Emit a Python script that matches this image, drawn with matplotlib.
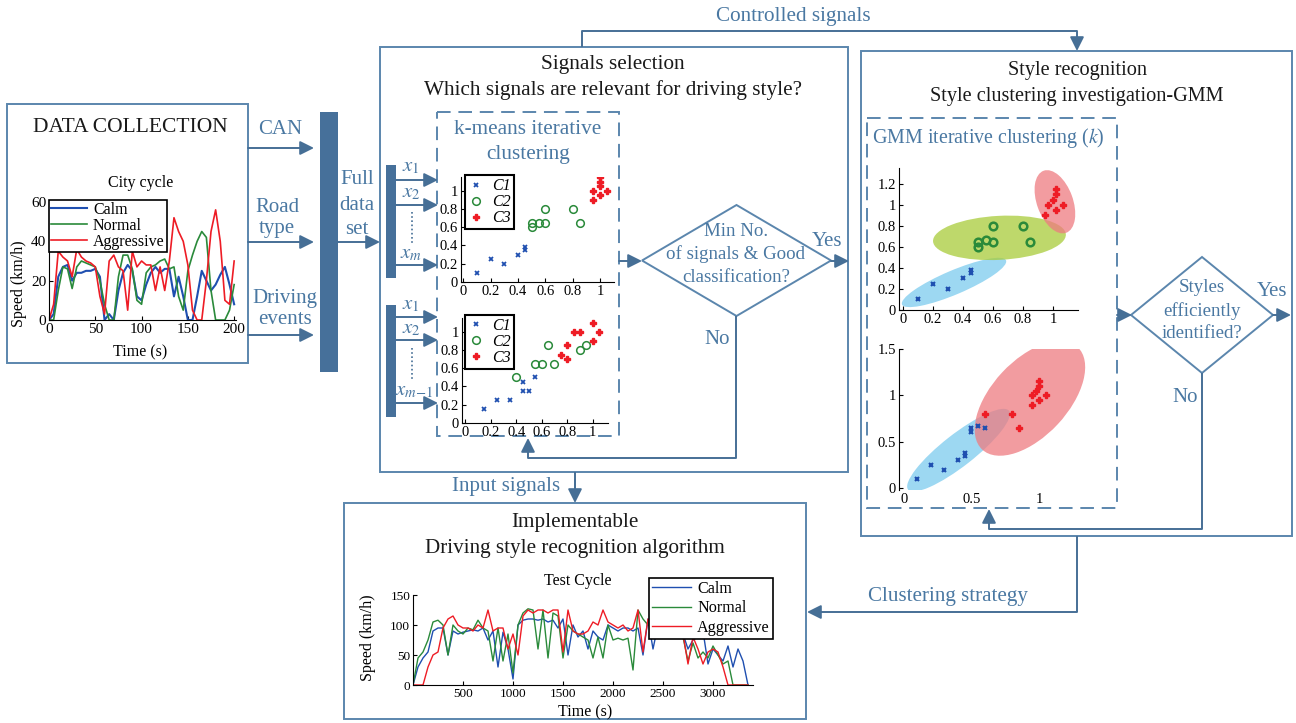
import numpy as np
import matplotlib.pyplot as plt
from matplotlib.patches import Rectangle, Polygon, Ellipse
from matplotlib.transforms import Affine2D

plt.rcParams['font.family'] = ['Liberation Serif', 'DejaVu Serif']
plt.rcParams['mathtext.fontset'] = 'stix'

W, H = 1296, 723
BOX = '#5b86ad'
ARR = '#466f96'
DARK = '#46709a'
TXT = '#4a78a2'
C_BLUE = '#1f4fb0'
C_GREEN = '#2a8a3a'
C_RED = '#ee1c25'

# ---- city cycle (speed km/h, every 5 s)
city_t = np.arange(0, 201, 5)
city_calm = [0, 3, 22, 27, 28, 20, 24, 24, 25, 25, 26, 22, 0, 3, 0, 15, 24, 28, 25, 12,
             10, 18, 24, 27, 24, 26, 26, 12, 22, 12, 0, 0, 12, 25, 20, 15, 18, 23, 27, 18, 8]
city_normal = [0, 0, 15, 27, 26, 16, 27, 30, 29, 28, 27, 20, 8, 0, 0, 22, 33, 33, 26, 10,
               8, 24, 27, 28, 30, 31, 26, 27, 12, 5, 25, 33, 40, 45, 42, 15, 0, 0, 0, 5, 18]
city_aggr = [0, 8, 35, 32, 30, 22, 36, 32, 30, 29, 27, 12, 3, 30, 33, 27, 25, 5, 35, 27,
             30, 28, 28, 15, 27, 15, 30, 52, 45, 40, 28, 5, 0, 0, 20, 45, 56, 40, 10, 8, 30]

# ---- test cycle (speed km/h, every 50 s)
test_t = np.arange(0, 3351, 50)
test_calm = [0, 30, 45, 55, 90, 95, 95, 50, 90, 85,
             88, 90, 92, 90, 95, 75, 90, 30, 88, 60,
             10, 100, 108, 110, 110, 108, 110, 105, 108, 95,
             110, 50, 100, 80, 90, 60, 90, 80, 75, 100,
             95, 90, 95, 95, 90, 95, 50, 110, 60, 100,
             95, 90, 95, 90, 85, 60, 75, 80, 90, 35,
             60, 50, 40, 65, 30, 60, 40, 0]
test_normal = [0, 45, 55, 75, 105, 108, 100, 50, 100, 90,
               85, 95, 92, 108, 95, 90, 40, 95, 40, 85,
               20, 100, 120, 127, 125, 60, 125, 45, 120, 115,
               45, 100, 90, 85, 80, 75, 45, 80, 45, 100,
               75, 78, 75, 78, 25, 125, 110, 100, 95, 95,
               90, 95, 90, 85, 80, 40, 70, 45, 55, 45,
               65, 50, 35, 40, 0, 0, 0, 0]
test_aggr = [0, 0, 0, 30, 50, 55, 95, 110, 115, 100,
             95, 95, 90, 100, 95, 125, 90, 95, 95, 60,
             85, 50, 115, 125, 120, 125, 125, 120, 125, 125,
             55, 125, 90, 85, 85, 90, 105, 100, 125, 105,
             100, 95, 100, 90, 95, 125, 55, 110, 100, 100,
             95, 100, 95, 90, 85, 35, 80, 60, 35, 55,
             60, 55, 30, 0, 0, 0, 0, 0]

# ---- k-means scatter, signal set x1..xm
km1_c1 = ([0.1, 0.2, 0.3, 0.4, 0.45, 0.45], [0.1, 0.25, 0.2, 0.3, 0.35, 0.38])
km1_c2 = ([0.5, 0.5, 0.55, 0.6, 0.6, 0.8, 0.85], [0.6, 0.65, 0.65, 0.65, 0.8, 0.8, 0.65])
km1_c3 = ([0.95, 0.95, 1.0, 1.0, 1.0, 1.0, 1.05], [0.9, 1.0, 0.95, 1.05, 1.1, 1.15, 1.0])
# ---- k-means scatter, signal set x1..x(m-1)
km2_c1 = ([0.15, 0.25, 0.35, 0.45, 0.45, 0.5, 0.55], [0.15, 0.25, 0.25, 0.35, 0.45, 0.35, 0.5])
km2_c2 = ([0.4, 0.55, 0.6, 0.65, 0.7, 0.9, 0.95], [0.5, 0.65, 0.65, 0.85, 0.65, 0.8, 0.85])
km2_c3 = ([0.75, 0.8, 0.8, 0.85, 0.9, 1.0, 1.0, 1.05], [0.75, 0.7, 0.85, 1.0, 1.0, 0.9, 1.1, 1.0])

# ---- GMM, k = 3
g1_c1 = ([0.1, 0.2, 0.3, 0.4, 0.45, 0.45], [0.1, 0.25, 0.2, 0.3, 0.35, 0.38])
g1_c2 = ([0.5, 0.5, 0.55, 0.6, 0.6, 0.8, 0.85], [0.6, 0.65, 0.67, 0.65, 0.8, 0.8, 0.65])
g1_c3 = ([0.95, 0.97, 1.0, 1.02, 1.02, 1.02, 1.07], [0.9, 1.0, 1.05, 1.1, 1.15, 0.95, 1.0])
g1_ell_center = [(0.34, 0.262), (0.643, 0.686), (1.013, 1.029)]
g1_ell_w = [113, 133, 66]
g1_ell_h = [24, 44, 36]
g1_ell_ang = [23, 3, 110]
# ---- GMM, k = 2
g2_c1 = ([0.1, 0.2, 0.3, 0.4, 0.45, 0.45, 0.5, 0.5, 0.55, 0.6],
         [0.1, 0.25, 0.2, 0.3, 0.35, 0.38, 0.6, 0.65, 0.67, 0.65])
g2_c3 = ([0.6, 0.8, 0.85, 0.95, 0.95, 1.0, 0.98, 1.0, 1.0, 1.05],
         [0.8, 0.8, 0.65, 0.9, 1.0, 0.95, 1.05, 1.1, 1.15, 1.0])
g2_ell_center = [(0.404, 0.409), (0.933, 0.968)]
g2_ell_w = [128, 140]
g2_ell_h = [32, 76]
g2_ell_ang = [38, 47]

styles = ['Calm', 'Normal', 'Aggressive']
clusters = ['C1', 'C2', 'C3']

fig = plt.figure(figsize=(W / 100, H / 100), dpi=100)
bg = fig.add_axes([0, 0, 1, 1])
bg.set_xlim(0, W)
bg.set_ylim(H, 0)
bg.axis('off')


def rect(x0, y0, x1, y1):
    return [x0 / W, 1 - y1 / H, (x1 - x0) / W, (y1 - y0) / H]


def box(x0, y0, x1, y1, ls='-'):
    bg.add_patch(Rectangle((x0, y0), x1 - x0, y1 - y0, fill=False, ec=BOX, lw=1.4,
                           ls=(0, (7, 4)) if ls == '--' else '-'))


def line(xs, ys):
    bg.plot(xs, ys, color=ARR, lw=1.4, solid_capstyle='butt')


def arrow(x0, y0, x1, y1):
    bg.annotate('', xy=(x1, y1), xytext=(x0, y0),
                arrowprops=dict(arrowstyle='-|>,head_length=0.6,head_width=0.3',
                                color=ARR, lw=1.4, mutation_scale=14,
                                shrinkA=0, shrinkB=0))


def txt(x, y, s, color=TXT, size=15, **kw):
    bg.text(x, y, s, ha='center', va='center', color=color, fontsize=size, **kw)


def diamond(l, t, r, b):
    cx, cy = (l + r) / 2, (t + b) / 2
    bg.add_patch(Polygon([(l, cy), (cx, t), (r, cy), (cx, b)], closed=True,
                         fill=False, ec=BOX, lw=1.4))


# ---------------- boxes
box(7, 104, 248, 363)
box(380, 47, 848, 472)
box(437, 112, 619, 436, '--')
box(861, 51, 1292, 536)
box(867, 118, 1117, 508, '--')
box(344, 503, 806, 719)

# dark bars
bg.add_patch(Rectangle((320, 112), 18, 260, fc=DARK, ec='none'))
bg.add_patch(Rectangle((386, 165), 10, 113, fc=DARK, ec='none'))
bg.add_patch(Rectangle((386, 305), 10, 112, fc=DARK, ec='none'))

# ---------------- left side
txt(130, 128, 'DATA COLLECTION', color='#1a1a1a', size=15.5)
arrow(248, 148, 314, 148)
arrow(248, 242, 314, 242)
arrow(248, 335, 314, 335)
txt(280, 129, 'CAN')
txt(277, 207, 'Road')
txt(277, 228, 'type')
txt(285, 299, 'Driving')
txt(285, 320, 'events')
txt(357, 179, 'Full')
txt(357, 205, 'data')
txt(357, 230, 'set')
arrow(338, 242, 380, 242)

# signals selection
txt(613, 65, 'Signals selection', color='#1a1a1a', size=15.3)
txt(613, 90, 'Which signals are relevant for driving style?', color='#1a1a1a', size=15.3)
txt(528, 130, 'k-means iterative', size=15.3)
txt(528, 154, 'clustering', size=15.3)
for yy in [180, 205, 265, 317, 340, 403]:
    arrow(396, yy, 438, yy)
txt(411, 167, r'$x_1$', size=15)
txt(411, 193, r'$x_2$', size=15)
txt(411, 254, r'$x_m$', size=15)
txt(411, 305, r'$x_1$', size=15)
txt(411, 329, r'$x_2$', size=15)
txt(414, 391, r'$x_{m\mathrm{-}1}$', size=15)
bg.plot([412, 412], [212, 243], color=ARR, lw=1.2, ls=(0, (1, 1.5)))
bg.plot([412, 412], [348, 379], color=ARR, lw=1.2, ls=(0, (1, 1.5)))

arrow(619, 261, 642, 261)
diamond(642, 205, 831, 316)
txt(736, 232, 'Min No.', size=13.6)
txt(736, 254, 'of signals & Good', size=13.6)
txt(736, 277, 'classification?', size=13.6)
txt(827, 242, 'Yes')
txt(717, 340, 'No')
arrow(831, 261, 849, 261)
line([736, 736, 528], [316, 458, 458])
arrow(528, 458, 528, 438)

# controlled signals
line([582, 582, 1077], [47, 31, 31])
arrow(1077, 31, 1077, 51)
txt(793, 17, 'Controlled signals', size=15.2)

# style recognition
txt(1077, 71, 'Style recognition', color='#1a1a1a', size=14.6)
txt(1077, 96, 'Style clustering investigation-GMM', color='#1a1a1a', size=14.6)
txt(988, 138, r'GMM iterative clustering ($\mathit{k}$)', size=14.4)
arrow(1117, 315, 1132, 315)
diamond(1131, 257, 1273, 373)
txt(1202, 288, 'Styles', size=13.6)
txt(1202, 311, 'efficiently', size=13.6)
txt(1202, 334, 'identified?', size=13.6)
txt(1272, 292, 'Yes')
txt(1185, 397, 'No')
arrow(1273, 315, 1291, 315)
line([1202, 1202, 989], [373, 529, 529])
arrow(989, 529, 989, 509)
line([1077, 1077], [536, 612])
arrow(1077, 612, 807, 612)
txt(948, 597, 'Clustering strategy', size=15.1)

# implementable
line([575, 575], [472, 490])
arrow(575, 480, 575, 503)
txt(506, 486, 'Input signals', size=15.1)
txt(575, 523, 'Implementable', color='#1a1a1a', size=15.2)
txt(575, 549, 'Driving style recognition algorithm', color='#1a1a1a', size=15.2)


def style_ax(ax, size=10.5):
    ax.set_facecolor('none')
    for s in ['top', 'right']:
        ax.spines[s].set_visible(False)
    for s in ['left', 'bottom']:
        ax.spines[s].set_linewidth(0.8)
    ax.tick_params(direction='in', length=3, width=0.8, labelsize=size, pad=2)


# ---------------- city cycle
ax = fig.add_axes(rect(49, 202, 236, 320))
style_ax(ax, 11)
ax.plot(city_t, city_calm, color=C_BLUE, lw=1.5, label=styles[0])
ax.plot(city_t, city_normal, color=C_GREEN, lw=1.2, label=styles[1])
ax.plot(city_t, city_aggr, color=C_RED, lw=1.2, label=styles[2])
ax.set_xlim(0, 202)
ax.set_ylim(0, 60)
ax.set_xticks([0, 50, 100, 150, 200])
ax.set_yticks([0, 20, 40, 60])
ax.set_xlabel('Time (s)', fontsize=11.5)
ax.set_ylabel('Speed (km/h)', fontsize=11.5)
ax.xaxis.set_label_coords(0.487, -0.205)
ax.yaxis.set_label_coords(-0.12, 0.31)
ax.text(0.49, 1.16, 'City cycle', transform=ax.transAxes, ha='center', va='center', fontsize=11.5)
lg = ax.legend(loc='upper left', bbox_to_anchor=(0.0, 1.02), borderaxespad=0, fancybox=False,
               edgecolor='black', framealpha=1, fontsize=11.5, labelspacing=0.0,
               handlelength=2.2, handletextpad=0.4, borderpad=0.15)
lg.get_frame().set_linewidth(1.2)

# ---------------- test cycle
ax = fig.add_axes(rect(413, 595, 753, 685))
style_ax(ax, 9.5)
ax.plot(test_t, test_calm, color=C_BLUE, lw=1.0, label=styles[0])
ax.plot(test_t, test_normal, color=C_GREEN, lw=1.0, label=styles[1])
ax.plot(test_t, test_aggr, color=C_RED, lw=1.0, label=styles[2])
ax.set_xlim(0, 3400)
ax.set_ylim(0, 150)
ax.set_xticks([500, 1000, 1500, 2000, 2500, 3000])
ax.set_yticks([0, 50, 100, 150])
ax.set_xlabel('Time (s)', fontsize=11.5)
ax.set_ylabel('Speed (km/h)', fontsize=11.5)
ax.xaxis.set_label_coords(0.506, -0.215)
ax.yaxis.set_label_coords(-0.108, 0.53)
ax.text(0.485, 1.156, 'Test Cycle', transform=ax.transAxes, ha='center', va='center', fontsize=11.5)
lg = ax.legend(loc='upper left', bbox_to_anchor=(0.694, 1.19), borderaxespad=0, fancybox=False,
               edgecolor='black', framealpha=1, fontsize=11.6, labelspacing=0.2,
               handlelength=2.4, handletextpad=0.4, borderpad=0.2)
lg.get_frame().set_linewidth(1.2)

C3_STYLE = dict(ls='none', marker='P', ms=5, mew=1.0, color=C_RED)


def km_ax(px, c1, c2, c3, xlim, leg_anchor):
    ax = fig.add_axes(rect(*px))
    style_ax(ax, 10.5)
    ax.plot(*c1, ls='none', marker='x', ms=3.5, mew=1.3, color=C_BLUE, label=clusters[0])
    ax.plot(*c2, ls='none', marker='o', ms=5.5, mew=1.1, mfc='none', color=C_GREEN, label=clusters[1])
    ax.plot(*c3, label=clusters[2], **C3_STYLE)
    ax.set_xlim(*xlim)
    ax.set_ylim(0, 1.15)
    ax.set_xticks([0, 0.2, 0.4, 0.6, 0.8, 1], ['0', '0.2', '0.4', '0.6', '0.8', '1'])
    ax.set_yticks([0, 0.2, 0.4, 0.6, 0.8, 1], ['0', '0.2', '0.4', '0.6', '0.8', '1'])
    lg = ax.legend(loc='upper left', bbox_to_anchor=leg_anchor, borderaxespad=0, fancybox=False,
                   edgecolor='black', framealpha=1, prop={'style': 'italic', 'size': 11.5},
                   labelspacing=0.0, handlelength=1.0, handletextpad=0.5, borderpad=0.2)
    lg.get_frame().set_linewidth(1.5)
    return ax


km_ax((461, 177, 614, 282), km1_c1, km1_c2, km1_c3, (-0.015, 1.1), (0.026, 1.02))
km_ax((462, 318, 608, 423), km2_c1, km2_c2, km2_c3, (-0.025, 1.12), (0.02, 1.03))


def ellipse(ax, center, w, h, ang, color):
    p0 = ax.transData.transform((0, 0))
    p1 = ax.transData.transform((1, 1))
    sx, sy = p1[0] - p0[0], p1[1] - p0[1]
    e = Ellipse((0, 0), w, h, angle=ang, fc=color, ec='none', alpha=0.75, zorder=1)
    e.set_transform(Affine2D().scale(1 / sx, 1 / sy).translate(*center) + ax.transData)
    ax.add_patch(e)


ell_colors3 = ['#7ccbee', '#a9cc3a', '#ee7b80']
ell_colors2 = ['#7ccbee', '#ee7b80']

# GMM k=3
ax = fig.add_axes(rect(899, 168, 1078, 310))
style_ax(ax, 10.5)
ax.set_xlim(-0.027, 1.167)
ax.set_ylim(0, 1.35)
for i in range(3):
    ellipse(ax, g1_ell_center[i], g1_ell_w[i], g1_ell_h[i], g1_ell_ang[i], ell_colors3[i])
ax.plot(*g1_c1, ls='none', marker='x', ms=3.5, mew=1.5, color=C_BLUE, zorder=3)
ax.plot(*g1_c2, ls='none', marker='o', ms=5.5, mew=1.8, mfc='none', color=C_GREEN, zorder=3)
ax.plot(*g1_c3, zorder=3, **C3_STYLE)
ax.set_xticks([0, 0.2, 0.4, 0.6, 0.8, 1], ['0', '0.2', '0.4', '0.6', '0.8', '1'])
ax.set_yticks([0, 0.2, 0.4, 0.6, 0.8, 1, 1.2], ['0', '0.2', '0.4', '0.6', '0.8', '1', '1.2'])

# GMM k=2
ax = fig.add_axes(rect(899, 349, 1090, 490))
style_ax(ax, 10.5)
ax.spines['bottom'].set_visible(False)
ax.set_xlim(-0.037, 1.378)
ax.set_ylim(-0.02, 1.5)
for i in range(2):
    ellipse(ax, g2_ell_center[i], g2_ell_w[i], g2_ell_h[i], g2_ell_ang[i], ell_colors2[i])
ax.plot(*g2_c1, ls='none', marker='x', ms=3.5, mew=1.5, color=C_BLUE, zorder=3)
ax.plot(*g2_c3, zorder=3, **C3_STYLE)
ax.set_xticks([0, 0.5, 1], ['0', '0.5', '1'])
ax.set_yticks([0, 0.5, 1, 1.5], ['0', '0.5', '1', '1.5'])
ax.tick_params(axis='x', length=0)

fig.savefig('out.png', dpi=100)
